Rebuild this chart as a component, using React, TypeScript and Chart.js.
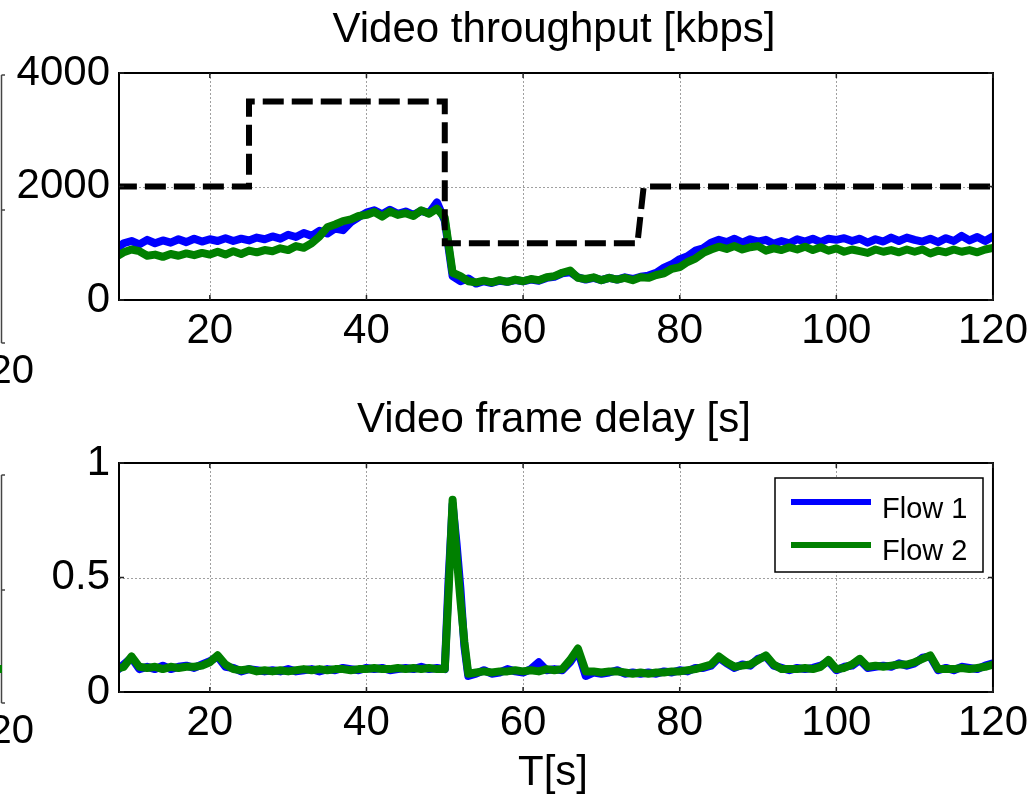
import React, { useEffect, useRef } from 'react';
import { Chart, registerables } from 'chart.js';

Chart.register(...registerables);

const FONT = "'Liberation Sans', Arial, Helvetica, sans-serif";

// ---------- shared x axis ----------
const X_MIN = 8.4;
const X_MAX = 120;
const X_TICKS = [20, 40, 60, 80, 100, 120];

// ---------- top subplot: video throughput [kbps] ----------
const THR_Y_TICKS = [0, 2000, 4000];
const THR_T = [
  8, 9, 10, 11, 12, 13, 14, 15, 16, 17,
  18, 19, 20, 21, 22, 23, 24, 25, 26, 27,
  28, 29, 30, 31, 32, 33, 34, 35, 36, 37,
  38, 39, 40, 41, 42, 43, 44, 45, 46, 47,
  48, 49, 50, 51, 52, 53, 54, 55, 56, 57,
  58, 59, 60, 61, 62, 63, 64, 65, 66, 67,
  68, 69, 70, 71, 72, 73, 74, 75, 76, 77,
  78, 79, 80, 81, 82, 83, 84, 85, 86, 87,
  88, 89, 90, 91, 92, 93, 94, 95, 96, 97,
  98, 99, 100, 101, 102, 103, 104, 105, 106, 107,
  108, 109, 110, 111, 112, 113, 114, 115, 116, 117,
  118, 119, 120,
];
const THR_FLOW1 = [
  900, 1000, 1040, 980, 1060, 1000, 1050, 1010, 1070, 1020,
  1080, 1030, 1070, 1040, 1090, 1040, 1080, 1050, 1100, 1070,
  1120, 1080, 1150, 1110, 1180, 1130, 1220, 1170, 1260, 1230,
  1370, 1460, 1540, 1580, 1510, 1590, 1520, 1560, 1500, 1570,
  1530, 1720, 1400, 420, 330, 380, 290, 330, 300, 340,
  320, 350, 330, 360, 340, 390, 410, 470, 490, 400,
  360, 390, 350, 390, 360, 400, 370, 410, 430, 480,
  570, 630, 720, 770, 870, 910, 1010, 1060, 1020, 1080,
  1010, 1070, 1030, 1060, 990, 1040, 1000, 1070, 1030, 1080,
  1020, 1080, 1060, 1090, 1040, 1080, 1010, 1070, 1030, 1100,
  1040, 1100, 1060, 1030, 1080, 1020, 1090, 1040, 1130, 1050,
  1110, 1040, 1120,
];
const THR_FLOW2 = [
  760, 840, 890, 860, 780, 800, 760, 810, 780, 820,
  790, 830, 800, 850, 800, 860, 810, 870, 840, 880,
  860, 910, 880, 950, 920, 1000, 1120, 1280, 1330, 1390,
  1420, 1480, 1500, 1550, 1470, 1560, 1500, 1530, 1480, 1580,
  1520, 1610, 1450, 480, 420, 330, 310, 340, 310, 350,
  320, 360, 330, 370, 350, 400, 420, 480, 520, 390,
  370, 400, 350, 390, 360, 390, 350, 400, 390, 440,
  470, 550, 580, 670, 730, 830, 890, 940, 900, 950,
  890, 930, 950, 870, 910, 880, 930, 890, 940, 880,
  930, 870, 910, 850, 890, 860, 830, 890, 850, 880,
  840, 890, 850, 890, 820, 870, 840, 890, 850, 880,
  840, 890, 920,
];
// target rate (dashed black step)
const TARGET_T = [8, 25, 25, 50, 50, 74.6, 75.4, 120];
const TARGET_KBPS = [2000, 2000, 3500, 3500, 1000, 1000, 2000, 2000];

// ---------- bottom subplot: video frame delay [s] ----------
const DLY_Y_TICKS = [0, 0.5, 1];
const DLY_T = [
  8, 9, 10, 11, 12, 13, 14, 15, 16, 17,
  18, 19, 20, 21, 22, 23, 24, 25, 26, 27,
  28, 29, 30, 31, 32, 33, 34, 35, 36, 37,
  38, 39, 40, 41, 42, 43, 44, 45, 46, 47,
  48, 49, 50, 50.5, 51, 51.5, 52, 52.5, 53, 54,
  55, 56, 57, 58, 59, 60, 61, 62, 63, 64,
  65, 66, 67, 68, 69, 70, 71, 72, 73, 74,
  75, 76, 77, 78, 79, 80, 81, 82, 83, 84,
  85, 86, 87, 88, 89, 90, 91, 92, 93, 94,
  95, 96, 97, 98, 99, 100, 101, 102, 103, 104,
  105, 106, 107, 108, 109, 110, 111, 112, 113, 114,
  115, 116, 117, 118, 119, 120,
];
const DLY_FLOW1 = [
  0.09, 0.12, 0.15, 0.10, 0.11, 0.10, 0.115, 0.10, 0.11, 0.115,
  0.105, 0.12, 0.135, 0.155, 0.11, 0.105, 0.09, 0.10, 0.095, 0.09,
  0.095, 0.09, 0.10, 0.09, 0.095, 0.10, 0.09, 0.10, 0.095, 0.105,
  0.10, 0.095, 0.105, 0.10, 0.105, 0.095, 0.10, 0.105, 0.10, 0.11,
  0.10, 0.105, 0.10, 0.50, 0.82, 0.65, 0.45, 0.20, 0.07, 0.08,
  0.095, 0.08, 0.085, 0.10, 0.09, 0.085, 0.10, 0.13, 0.095, 0.10,
  0.095, 0.13, 0.18, 0.07, 0.085, 0.08, 0.085, 0.095, 0.08, 0.085,
  0.08, 0.085, 0.08, 0.09, 0.085, 0.095, 0.09, 0.105, 0.105, 0.115,
  0.15, 0.125, 0.105, 0.12, 0.115, 0.145, 0.155, 0.115, 0.105, 0.095,
  0.105, 0.10, 0.105, 0.115, 0.135, 0.095, 0.11, 0.115, 0.14, 0.105,
  0.11, 0.115, 0.11, 0.125, 0.115, 0.125, 0.15, 0.155, 0.095, 0.105,
  0.095, 0.11, 0.105, 0.10, 0.115, 0.125,
];
const DLY_FLOW2 = [
  0.10, 0.11, 0.155, 0.11, 0.105, 0.11, 0.10, 0.11, 0.105, 0.11,
  0.11, 0.115, 0.13, 0.16, 0.12, 0.10, 0.095, 0.10, 0.09, 0.095,
  0.09, 0.095, 0.09, 0.095, 0.10, 0.095, 0.10, 0.095, 0.10, 0.10,
  0.095, 0.10, 0.10, 0.105, 0.10, 0.10, 0.105, 0.10, 0.105, 0.10,
  0.105, 0.10, 0.10, 0.45, 0.84, 0.60, 0.40, 0.22, 0.08, 0.085,
  0.09, 0.085, 0.09, 0.09, 0.095, 0.09, 0.095, 0.09, 0.10, 0.095,
  0.10, 0.14, 0.19, 0.09, 0.09, 0.085, 0.09, 0.09, 0.085, 0.08,
  0.085, 0.08, 0.085, 0.085, 0.09, 0.09, 0.095, 0.10, 0.11, 0.12,
  0.155, 0.13, 0.11, 0.115, 0.12, 0.14, 0.16, 0.12, 0.10, 0.10,
  0.10, 0.105, 0.10, 0.11, 0.14, 0.10, 0.105, 0.12, 0.145, 0.11,
  0.115, 0.11, 0.115, 0.12, 0.12, 0.13, 0.145, 0.16, 0.10, 0.10,
  0.10, 0.105, 0.10, 0.105, 0.11, 0.12,
];

const LEGEND_LABELS = ['Flow 1', 'Flow 2'];
const BLUE = '#0000ff';
const GREEN = '#008000';

const pts = (xs: number[], ys: number[]) => xs.map((x, i) => ({ x, y: ys[i] }));

type SubSpec = {
  pageTop: number;
  height: number;
  areaTop: number;
  areaBottom: number;
  title: string;
  titleBaseline: number;
  yMin: number;
  yMax: number;
  yTicks: number[];
  yFmt: (v: number) => string;
  datasets: any[];
  xLabel?: string;
  xLabelBaseline?: number;
  legend?: boolean;
  remnant: { lineTop: number; lineBottom: number; ticks: number[]; textBaseline: number; green?: [number, number] };
};

const AREA_LEFT = 119;
const AREA_RIGHT = 994;
const W = 1034;

function makeConfig(p: SubSpec): any {
  const axesPlugin = {
    id: 'matlabAxes',
    beforeDatasetsDraw(chart: any) {
      const { ctx, chartArea: a, scales } = chart;
      const x = scales.x;
      const y = scales.y;
      ctx.save();
      ctx.strokeStyle = 'rgba(150,150,150,0.9)';
      ctx.lineWidth = 1;
      ctx.setLineDash([2, 2]);
      X_TICKS.forEach((v) => {
        const px = Math.round(x.getPixelForValue(v)) + 0.5;
        if (px > a.left + 2 && px < a.right - 2) {
          ctx.beginPath();
          ctx.moveTo(px, a.top);
          ctx.lineTo(px, a.bottom);
          ctx.stroke();
        }
      });
      p.yTicks.forEach((v) => {
        const py = Math.round(y.getPixelForValue(v)) + 0.5;
        if (py > a.top + 2 && py < a.bottom - 2) {
          ctx.beginPath();
          ctx.moveTo(a.left, py);
          ctx.lineTo(a.right, py);
          ctx.stroke();
        }
      });
      ctx.restore();
    },
    afterDatasetsDraw(chart: any) {
      const { ctx, chartArea: a, scales } = chart;
      const x = scales.x;
      const y = scales.y;
      ctx.save();
      // box
      ctx.setLineDash([]);
      ctx.strokeStyle = '#000';
      ctx.lineWidth = 2;
      ctx.strokeRect(a.left, a.top, a.right - a.left, a.bottom - a.top);
      // inward ticks
      ctx.lineWidth = 1.5;
      ctx.strokeStyle = '#222';
      const tl = 5;
      X_TICKS.forEach((v) => {
        const px = x.getPixelForValue(v);
        ctx.beginPath();
        ctx.moveTo(px, a.bottom);
        ctx.lineTo(px, a.bottom - tl);
        ctx.moveTo(px, a.top);
        ctx.lineTo(px, a.top + tl);
        ctx.stroke();
      });
      p.yTicks.forEach((v) => {
        const py = y.getPixelForValue(v);
        ctx.beginPath();
        ctx.moveTo(a.left, py);
        ctx.lineTo(a.left + tl, py);
        ctx.moveTo(a.right, py);
        ctx.lineTo(a.right - tl, py);
        ctx.stroke();
      });
      // title
      ctx.fillStyle = '#000';
      ctx.font = `42px ${FONT}`;
      ctx.textAlign = 'center';
      ctx.textBaseline = 'alphabetic';
      ctx.fillText(p.title, (a.left + a.right) / 2 - 2, p.titleBaseline);
      if (p.xLabel && p.xLabelBaseline) {
        ctx.fillText(p.xLabel, (a.left + a.right) / 2 - 3, p.xLabelBaseline);
      }
      // legend
      if (p.legend) {
        const bx = 775, by = 83, bw = 208, bh = 94;
        ctx.fillStyle = '#fff';
        ctx.fillRect(bx, by, bw, bh);
        ctx.strokeStyle = '#000';
        ctx.lineWidth = 1.5;
        ctx.strokeRect(bx, by, bw, bh);
        const colors = [BLUE, GREEN];
        const lineYs = [107, 150];
        const textYs = [123, 165];
        LEGEND_LABELS.forEach((lab, i) => {
          ctx.strokeStyle = colors[i];
          ctx.lineWidth = 6;
          ctx.beginPath();
          ctx.moveTo(791, lineYs[i]);
          ctx.lineTo(871, lineYs[i]);
          ctx.stroke();
          ctx.fillStyle = '#000';
          ctx.font = `29px ${FONT}`;
          ctx.textAlign = 'left';
          ctx.fillText(lab, 882, textYs[i]);
        });
      }
      // clipped neighbouring subplot remnant at left edge
      const r = p.remnant;
      ctx.strokeStyle = '#444';
      ctx.lineWidth = 1.5;
      ctx.beginPath();
      ctx.moveTo(1.5, r.lineTop);
      ctx.lineTo(1.5, r.lineBottom);
      r.ticks.forEach((t) => {
        ctx.moveTo(1.5, t);
        ctx.lineTo(5, t);
      });
      ctx.stroke();
      if (r.green) {
        ctx.fillStyle = GREEN;
        ctx.fillRect(0, r.green[0], 2, r.green[1] - r.green[0]);
      }
      ctx.fillStyle = '#000';
      ctx.font = `40px ${FONT}`;
      ctx.textAlign = 'right';
      ctx.fillText('120', 34, r.textBaseline);
      ctx.restore();
    },
  };

  return {
    type: 'line',
    data: { datasets: p.datasets },
    options: {
      responsive: false,
      animation: false,
      events: [],
      layout: {
        padding: { left: 0, right: W - AREA_RIGHT, top: p.areaTop, bottom: 0 },
      },
      plugins: {
        legend: { display: false },
        title: { display: false },
        tooltip: { enabled: false },
      },
      elements: { point: { radius: 0 } },
      scales: {
        x: {
          type: 'linear',
          min: X_MIN,
          max: X_MAX,
          grid: { display: false, drawTicks: false },
          border: { display: false },
          afterBuildTicks: (s: any) => {
            s.ticks = X_TICKS.map((v) => ({ value: v }));
          },
          afterFit: (s: any) => {
            s.height = p.height - p.areaBottom;
          },
          ticks: {
            autoSkip: false,
            maxRotation: 0,
            padding: 6,
            color: '#000',
            font: { family: FONT, size: 42 },
            callback: (v: any) => String(v),
          },
        },
        y: {
          type: 'linear',
          min: p.yMin,
          max: p.yMax,
          grid: { display: false, drawTicks: false },
          border: { display: false },
          afterBuildTicks: (s: any) => {
            s.ticks = p.yTicks.map((v) => ({ value: v }));
          },
          afterFit: (s: any) => {
            s.width = AREA_LEFT;
          },
          ticks: {
            padding: 9,
            color: '#000',
            font: { family: FONT, size: 42 },
            callback: (v: any) => p.yFmt(Number(v)),
          },
        },
      },
    },
    plugins: [axesPlugin],
  };
}

const flowLine = (label: string, color: string, data: any[], order: number) => ({
  label,
  data,
  borderColor: color,
  backgroundColor: color,
  borderWidth: 8,
  borderJoinStyle: 'round',
  borderCapStyle: 'round',
  pointRadius: 0,
  tension: 0,
  fill: false,
  order,
});

const TOP: SubSpec = {
  pageTop: 0,
  height: 395,
  areaTop: 73,
  areaBottom: 300,
  title: 'Video throughput [kbps]',
  titleBaseline: 42,
  yMin: 0,
  yMax: 4000,
  yTicks: THR_Y_TICKS,
  yFmt: (v) => String(v),
  datasets: [
    {
      label: 'Target',
      data: pts(TARGET_T, TARGET_KBPS),
      borderColor: '#000',
      borderWidth: 6,
      borderDash: [21, 8],
      borderCapStyle: 'butt',
      pointRadius: 0,
      tension: 0,
      fill: false,
      order: 0,
    },
    flowLine('Flow 2', GREEN, pts(THR_T, THR_FLOW2), 1),
    flowLine('Flow 1', BLUE, pts(THR_T, THR_FLOW1), 2),
  ],
  remnant: { lineTop: 75, lineBottom: 343, ticks: [75, 210, 343], textBaseline: 383 },
};

const BOTTOM: SubSpec = {
  pageTop: 395,
  height: 400,
  areaTop: 68,
  areaBottom: 297,
  title: 'Video frame delay [s]',
  titleBaseline: 37,
  yMin: 0,
  yMax: 1,
  yTicks: DLY_Y_TICKS,
  yFmt: (v) => String(v),
  datasets: [
    flowLine('Flow 2', GREEN, pts(DLY_T, DLY_FLOW2), 1),
    flowLine('Flow 1', BLUE, pts(DLY_T, DLY_FLOW1), 2),
  ],
  xLabel: 'T[s]',
  xLabelBaseline: 390,
  legend: true,
  remnant: { lineTop: 80, lineBottom: 308, ticks: [80, 195, 308], textBaseline: 348, green: [270, 278] },
};

function SubPlot({ spec }: { spec: SubSpec }) {
  const ref = useRef<HTMLCanvasElement>(null);
  useEffect(() => {
    if (!ref.current) return;
    const chart = new Chart(ref.current, makeConfig(spec));
    return () => chart.destroy();
  }, [spec]);
  return (
    <canvas
      ref={ref}
      width={W}
      height={spec.height}
      style={{ position: 'absolute', left: 0, top: spec.pageTop, width: W, height: spec.height }}
    />
  );
}

export default function App() {
  return (
    <div style={{ position: 'absolute', left: 0, top: 0, width: W, height: 795, background: '#fff', overflow: 'hidden' }}>
      <SubPlot spec={TOP} />
      <SubPlot spec={BOTTOM} />
    </div>
  );
}
